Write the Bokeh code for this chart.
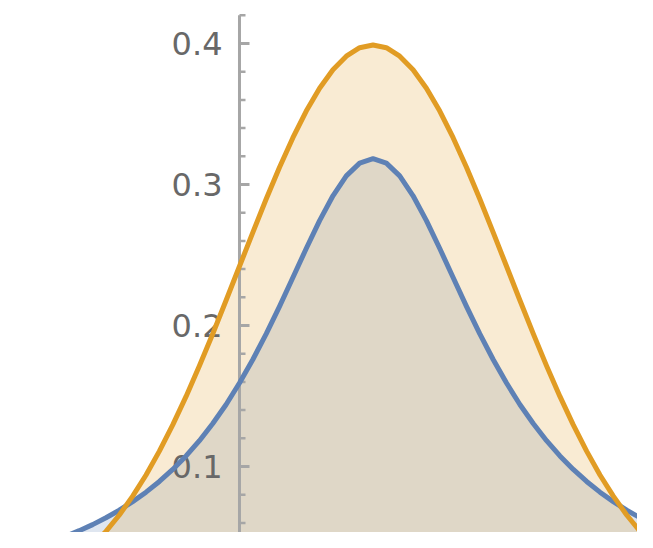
from bokeh.plotting import figure
from bokeh.models import Range1d
from bokeh.embed import file_html
from bokeh.resources import INLINE
from bokeh.core.properties import value

# sample positions along the x axis
x_vals = [-1.8, -1.7, -1.6, -1.5, -1.4, -1.3, -1.2, -1.1, -1.0, -0.9,
          -0.8, -0.7, -0.6, -0.5, -0.4, -0.3, -0.2, -0.1, 0.0, 0.1,
          0.2, 0.3, 0.4, 0.5, 0.6, 0.7, 0.8, 0.9, 1.0, 1.1,
          1.2, 1.3, 1.4, 1.5, 1.6, 1.7, 1.8, 1.9, 2.0, 2.1,
          2.2, 2.3, 2.4, 2.5, 2.6, 2.7, 2.8, 2.9, 3.0]

# blue curve (lower, heavy-tailed)
blue_vals = [0.0360, 0.0384, 0.0410, 0.0439, 0.0471, 0.0506, 0.0545, 0.0588, 0.0637, 0.0690,
             0.0751, 0.0818, 0.0894, 0.0979, 0.1075, 0.1183, 0.1305, 0.1440, 0.1592, 0.1759,
             0.1941, 0.2136, 0.2341, 0.2546, 0.2744, 0.2920, 0.3061, 0.3152, 0.3183, 0.3152,
             0.3061, 0.2920, 0.2744, 0.2546, 0.2341, 0.2136, 0.1941, 0.1759, 0.1592, 0.1440,
             0.1305, 0.1183, 0.1075, 0.0979, 0.0894, 0.0818, 0.0751, 0.0690, 0.0637]

# orange curve (taller bell)
orange_vals = [0.0079, 0.0104, 0.0136, 0.0175, 0.0224, 0.0283, 0.0355, 0.0440, 0.0540, 0.0656,
               0.0790, 0.0940, 0.1109, 0.1295, 0.1497, 0.1714, 0.1942, 0.2179, 0.2420, 0.2661,
               0.2897, 0.3123, 0.3332, 0.3521, 0.3683, 0.3814, 0.3910, 0.3970, 0.3989, 0.3970,
               0.3910, 0.3814, 0.3683, 0.3521, 0.3332, 0.3123, 0.2897, 0.2661, 0.2420, 0.2179,
               0.1942, 0.1714, 0.1497, 0.1295, 0.1109, 0.0940, 0.0790, 0.0656, 0.0540]

ytick_values = [0.1, 0.2, 0.3, 0.4]
ytick_labels = ["0.1", "0.2", "0.3", "0.4"]
minor_tick_values = [0.06, 0.08, 0.12, 0.14, 0.16, 0.18, 0.22, 0.24, 0.26, 0.28,
                     0.32, 0.34, 0.36, 0.38, 0.42]
axis_top = 0.42

BLUE = "#5E81B5"
ORANGE = "#E19C24"
AXIS = "#a6a6a6"

p = figure(width=637, height=532,
           x_range=Range1d(-1.790, 2.981), y_range=Range1d(0.0532, 0.4305),
           output_backend="svg", toolbar_location=None,
           x_axis_location=None, y_axis_location=None, min_border=0)
p.grid.visible = False
p.outline_line_color = None
p.background_fill_color = "white"
p.border_fill_color = "white"

# fillings to axis
p.varea(x=x_vals, y1=[0.0] * len(x_vals), y2=blue_vals, fill_color=BLUE, fill_alpha=0.2)
p.varea(x=x_vals, y1=[0.0] * len(x_vals), y2=orange_vals, fill_color=ORANGE, fill_alpha=0.2)

# y axis at x = 0
p.line(x=[0, 0], y=[0.0, axis_top], line_color=AXIS, line_width=3)
p.segment(x0=[0] * len(ytick_values), y0=ytick_values,
          x1=[0.075] * len(ytick_values), y1=ytick_values,
          line_color=AXIS, line_width=3)
p.segment(x0=[0] * len(minor_tick_values), y0=minor_tick_values,
          x1=[0.045] * len(minor_tick_values), y1=minor_tick_values,
          line_color=AXIS, line_width=2.5)
p.text(x=[0] * len(ytick_values), y=ytick_values, text=ytick_labels,
       text_align="right", text_baseline="middle", x_offset=-17,
       text_font=value("DejaVu Sans"), text_font_size="32px", text_color="#686868")

# curves
p.line(x=x_vals, y=blue_vals, line_color=BLUE, line_width=5, line_join="round")
p.line(x=x_vals, y=orange_vals, line_color=ORANGE, line_width=5, line_join="round")

open("out.html", "w").write(file_html(p, INLINE))
